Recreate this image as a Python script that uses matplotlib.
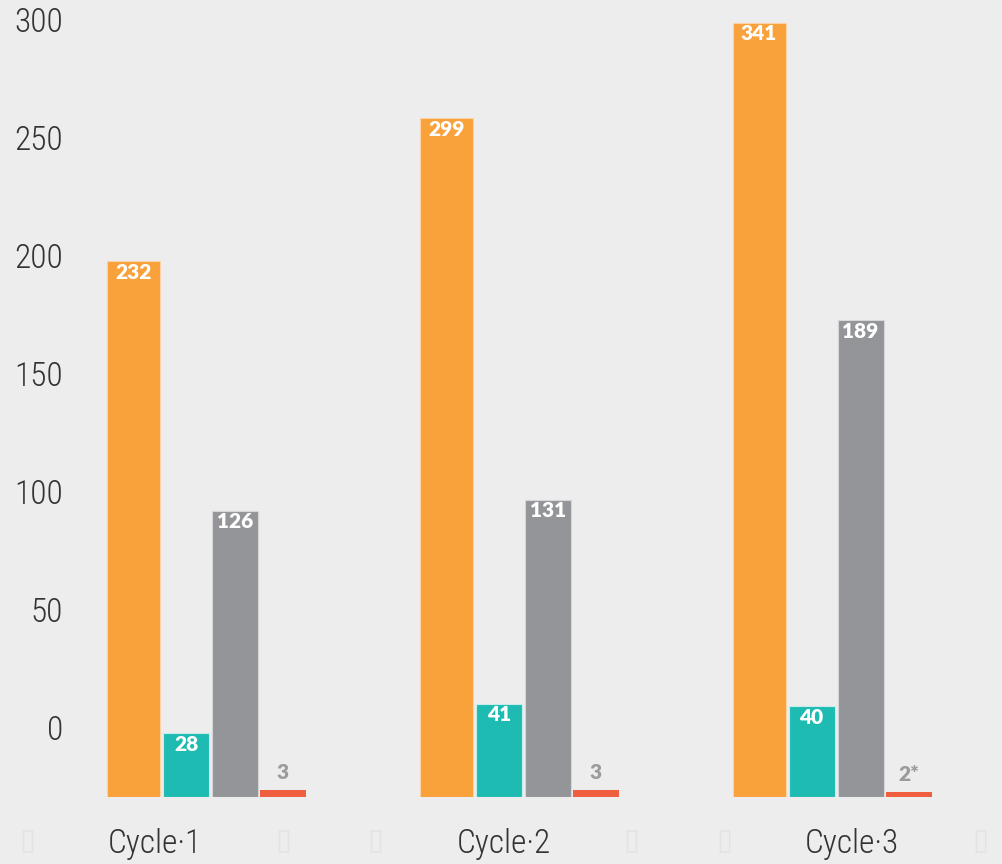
import matplotlib.pyplot as plt
from matplotlib import font_manager

# Data
categories = ["Cycle·1", "Cycle·2", "Cycle·3"]
orange_vals = [236, 299, 341]
teal_vals = [28, 41, 40]
gray_vals = [126, 131, 210]
red_vals = [3, 3, 2]
orange_labels = ["232", "299", "341"]
teal_labels = ["28", "41", "40"]
gray_labels = ["126", "131", "189"]
red_labels = ["3", "3", "2*"]
ytick_values = [0, 50, 100, 150, 200, 250, 300]

# Fonts
names = {f.name for f in font_manager.fontManager.ttflist}
cond_font = next((n for n in ["Roboto Condensed", "Liberation Sans Narrow",
                              "Open Sans Condensed"] if n in names), "DejaVu Sans")
label_font = "Lato" if "Lato" in names else "DejaVu Sans"

bg = "#ededed"
fig = plt.figure(figsize=(10.02, 8.64), dpi=100, facecolor=bg)
ax = fig.add_axes([0, 67 / 864, 1, 797 / 864])
ax.set_facecolor(bg)

# scales: 2.27 px per unit vertically, 312.75 px per group horizontally
px_y = 2.27
px_x = 312.75
ax.set_ylim(0, 797 / px_y)
ax.set_xlim(-206.5 / px_x, (1002 - 206.5) / px_x)

series = [
    (orange_vals, orange_labels, "#f9a13b", -73, 53, "#fbd3a6"),
    (teal_vals, teal_labels, "#1dbbb2", -20.5, 46, "#c8ece9"),
    (gray_vals, gray_labels, "#949598", 28.5, 46, "#d6d6d8"),
    (red_vals, red_labels, "#ef5f3f", 76.5, 46, "none"),
]

for vals, labs, color, off, w, edge in series:
    xs = [i + off / px_x for i in range(len(categories))]
    ax.bar(xs, vals, width=w / px_x, color=color, edgecolor=edge, linewidth=0.8)
    for x, v, t in zip(xs, vals, labs):
        if color == "#ef5f3f":
            ax.annotate(t, (x, v), xytext=(0, 6), textcoords="offset points",
                        ha="center", va="bottom", color="#9b9b9d",
                        fontsize=15, fontweight="heavy", family=label_font)
        else:
            ax.annotate(t, (x, v), xytext=(0, -1), textcoords="offset points",
                        ha="center", va="top", color="white",
                        fontsize=15, fontweight="heavy", family=label_font)

# y tick labels (offset from the bars' baseline as in the original)
ypos = [30.6 + v * 51.98 / 50 for v in ytick_values]
ax.set_yticks(ypos, [str(v) for v in ytick_values])
ax.tick_params(axis="y", length=0, pad=-45.4, labelsize=24, labelcolor="#333333")
for t in ax.get_yticklabels():
    t.set_family(cond_font)
    t.set_fontweight("light")

# x tick labels with empty-glyph boxes on either side
xpos, xlabs = [], []
for i, c in enumerate(categories):
    center = (155 + 348.5 * i - 206.5) / px_x
    xpos += [center - 128 / px_x, center, center + 128 / px_x]
    xlabs += ["\u25af", c, "\u25af"]
ax.set_xticks(xpos, xlabs)
ax.tick_params(axis="x", length=0, pad=22, labelsize=24, labelcolor="#333333")
for t in ax.get_xticklabels():
    if t.get_text() == "\u25af":
        t.set_family("DejaVu Sans")
        t.set_color("#e3e3e3")
        t.set_fontsize(21)
    else:
        t.set_family(cond_font)
        t.set_fontweight("light")

for s in ax.spines.values():
    s.set_visible(False)

fig.savefig("out.png", dpi=100, facecolor=bg)
